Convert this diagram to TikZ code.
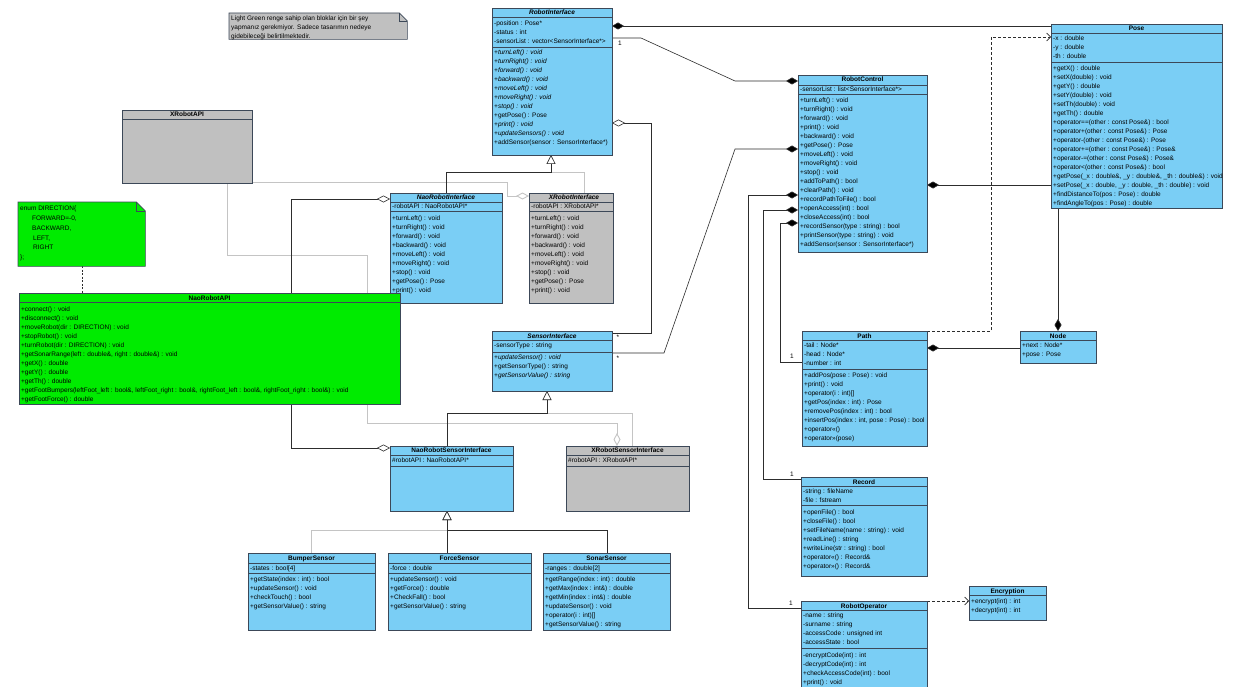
\documentclass[tikz,border=0pt]{standalone}
\usepackage{fontspec}
\setmainfont{Liberation Sans}
\usetikzlibrary{arrows.meta}
\definecolor{cblue}{RGB}{122,206,245}
\definecolor{cgray}{RGB}{192,192,192}
\definecolor{cgreen}{RGB}{0,235,0}
\definecolor{cbord}{RGB}{60,72,88}
\definecolor{cline}{RGB}{45,45,45}
\definecolor{clgray}{RGB}{196,196,196}
\newcommand\ms{\rule{0pt}{7pt}}
\newcommand{\ucls}[6]{\node[#2, anchor=north west, minimum width={#5pt-#3pt}, minimum height={#6pt-#4pt}] (#1) at (#3,#4) {};}
\pgfdeclarelayer{bg}
\pgfsetlayers{bg,main}
\begin{document}
\begin{tikzpicture}[x=1pt,y=-1pt,
 bluecls/.style={draw=cbord, fill=cblue, line width=0.7pt, inner sep=0, outer sep=0},
 graycls/.style={draw=cbord, fill=cgray, line width=0.7pt, inner sep=0, outer sep=0},
 greencls/.style={draw=cbord, fill=cgreen, line width=0.7pt, inner sep=0, outer sep=0},
 dv/.style={draw=cbord, line width=0.6pt},
 txt/.style={anchor=north west, align=left, inner sep=0, font=\fontsize{6.5}{9}\selectfont},
 hdr/.style={anchor=base, inner sep=0, font=\fontsize{6.5}{9}\selectfont\bfseries},
 hdri/.style={anchor=base, inner sep=0, font=\fontsize{6.5}{9}\selectfont\bfseries\itshape},
 lbl/.style={inner sep=0, font=\fontsize{6.5}{8}\selectfont},
 dk/.style={draw=cline, line width=0.6pt},
 lg/.style={draw=clgray, line width=0.9pt},
 comp/.style={{Diamond[length=12pt,width=7pt,fill=black]}-},
 agge/.style={-{Diamond[open,length=13pt,width=7pt,fill=white]}},
 agg/.style={{Diamond[open,length=13pt,width=7pt,fill=white]}-},
 compe/.style={-{Diamond[length=12pt,width=7pt,fill=black]}},
 gen/.style={-{Triangle[open,length=9pt,width=9pt,fill=white]}},
 dep/.style={dash pattern=on 3pt off 2pt, -{Straight Barb[length=4pt,width=8pt]}}
]
\useasboundingbox (0,0) rectangle (1238,687);

% ---------- note 1
\node[anchor=north west, minimum width=178pt, minimum height=26pt, inner sep=0] (N1) at (229,13) {};
\fill[cgray, draw=cbord, line width=0.6pt] (N1.north west) -- ([xshift=-8pt]N1.north east) -- ([yshift=-8pt]N1.north east) -- (N1.south east) -- (N1.south west) -- cycle;
\draw[cbord, line width=0.5pt] ([xshift=-8pt]N1.north east) -- ([xshift=-8pt,yshift=-8pt]N1.north east) -- ([yshift=-8pt]N1.north east);
\node[txt] (N1t) at (231,13.5) {\ms Light Green renge sahip olan bloklar için bir şey\\yapmanız gerekmiyor. Sadece tasarımın nedeye\\gidebileceği belirtilmektedir.};

% ---------- enum note
\node[anchor=north west, minimum width=127pt, minimum height=64pt, inner sep=0] (EN) at (18,202) {};
\fill[cgreen, draw=cbord, line width=0.6pt] (EN.north west) -- ([xshift=-9pt]EN.north east) -- ([yshift=-9pt]EN.north east) -- (EN.south east) -- (EN.south west) -- cycle;
\draw[cbord, line width=0.5pt] ([xshift=-9pt]EN.north east) -- ([xshift=-9pt,yshift=-9pt]EN.north east) -- ([yshift=-9pt]EN.north east);
\node[txt, font=\fontsize{6.5}{9.8}\selectfont] (ENt) at (20,203.5) {\ms enum DIRECTION\{\\\hspace*{12pt}FORWARD=-0,\\\hspace*{12pt}BACKWARD,\\\hspace*{13pt}LEFT,\\\hspace*{13pt}RIGHT\\\};};

% ---------- XRobotAPI
\ucls{XAPI}{graycls}{122}{110}{252}{183}
\draw[dv] (122,119) -- (252,119);
\node[hdr] (XAPIh) at (187,117) {XRobotAPI};

% ---------- RobotInterface
\ucls{RI}{bluecls}{492}{8}{612}{155}
\draw[dv] (492,17) -- (612,17);
\draw[dv] (492,47) -- (612,47);
\node[hdri] (RIh) at (552,15) {RobotInterface};
\node[txt] (RIa) at (494,18.5) {\ms -position : Pose*\\-status : int\\-sensorList : vector<SensorInterface*>};
\node[txt] (RIo) at (494,47.5) {\ms \textit{+turnLeft() : void}\\\textit{+turnRight() : void}\\\textit{+forward() : void}\\\textit{+backward() : void}\\\textit{+moveLeft() : void}\\\textit{+moveRight() : void}\\\textit{+stop() : void}\\+getPose() : Pose\\\textit{+print() : void}\\\textit{+updateSensors() : void}\\+addSensor(sensor : SensorInterface*)};

% ---------- NaoRobotInterface
\ucls{NRI}{bluecls}{390}{193}{502}{303}
\draw[dv] (390,202) -- (502,202);
\draw[dv] (390,211) -- (502,211);
\node[hdri] (NRIh) at (446,199.5) {NaoRobotInterface};
\node[txt] (NRIa) at (392,201.5) {\ms -robotAPI : NaoRobotAPI*};
\node[txt] (NRIo) at (392,213.5) {\ms +turnLeft() : void\\+turnRight() : void\\+forward() : void\\+backward() : void\\+moveLeft() : void\\+moveRight() : void\\+stop() : void\\+getPose() : Pose\\+print() : void};

% ---------- XRobotInterface
\ucls{XRI}{graycls}{529}{193}{613}{303}
\draw[dv] (529,202) -- (613,202);
\draw[dv] (529,211) -- (613,211);
\node[hdri] (XRIh) at (574,199.5) {XRobotInterface};
\node[txt] (XRIa) at (531,201.5) {\ms -robotAPI : XRobotAPI*};
\node[txt] (XRIo) at (531,213.5) {\ms +turnLeft() : void\\+turnRight() : void\\+forward() : void\\+backward() : void\\+moveLeft() : void\\+moveRight() : void\\+stop() : void\\+getPose() : Pose\\+print() : void};

% ---------- NaoRobotAPI
\ucls{NRA}{greencls}{19}{293}{400}{404}
\draw[dv] (19,302) -- (400,302);
\node[hdr] (NRAh) at (209.5,300) {NaoRobotAPI};
\node[txt] (NRAo) at (21,304.5) {\ms +connect() : void\\+disconnect() : void\\+moveRobot(dir : DIRECTION) : void\\+stopRobot() : void\\+turnRobot(dir : DIRECTION) : void\\+getSonarRange(left : double\&, right : double\&) : void\\+getX() : double\\+getY() : double\\+getTh() : double\\+getFootBumpers(leftFoot\_left : bool\&, leftFoot\_right : bool\&, rightFoot\_left : bool\&, rightFoot\_right : bool\&) : void\\+getFootForce() : double};

% ---------- SensorInterface
\ucls{SI}{bluecls}{492}{331}{612}{391}
\draw[dv] (492,340) -- (612,340);
\draw[dv] (492,352) -- (612,352);
\node[hdri] (SIh) at (552,338) {SensorInterface};
\node[txt] (SIa) at (494,340.5) {\ms -sensorType : string};
\node[txt] (SIo) at (494,352.5) {\ms \textit{+updateSensor() : void}\\+getSensorType() : string\\\textit{+getSensorValue() : string}};

% ---------- NaoRobotSensorInterface
\ucls{NRSI}{bluecls}{390}{446}{513}{511}
\draw[dv] (390,455) -- (513,455);
\draw[dv] (390,466) -- (513,466);
\node[hdr] (NRSIh) at (451.5,452.5) {NaoRobotSensorInterface};
\node[txt] (NRSIa) at (392,455.5) {\ms \#robotAPI : NaoRobotAPI*};

% ---------- XRobotSensorInterface
\ucls{XRSI}{graycls}{566}{446}{689}{511}
\draw[dv] (566,455) -- (689,455);
\draw[dv] (566,466) -- (689,466);
\node[hdr] (XRSIh) at (627.5,452.5) {XRobotSensorInterface};
\node[txt] (XRSIa) at (568,455.5) {\ms \#robotAPI : XRobotAPI*};

% ---------- sensors
\ucls{BS}{bluecls}{248}{553}{375}{630}
\draw[dv] (248,563) -- (375,563);
\draw[dv] (248,573) -- (375,573);
\node[hdr] (BSh) at (311.5,560.5) {BumperSensor};
\node[txt] (BSa) at (250,563.5) {\ms -states : bool[4]};
\node[txt] (BSo) at (250,574.5) {\ms +getState(index : int) : bool\\+updateSensor() : void\\+checkTouch() : bool\\+getSensorValue() : string};

\ucls{FS}{bluecls}{388}{553}{531}{630}
\draw[dv] (388,563) -- (531,563);
\draw[dv] (388,573) -- (531,573);
\node[hdr] (FSh) at (459.5,560.5) {ForceSensor};
\node[txt] (FSa) at (390,563.5) {\ms -force : double};
\node[txt] (FSo) at (390,574.5) {\ms +updateSensor() : void\\+getForce() : double\\+CheckFall() : bool\\+getSensorValue() : string};

\ucls{SS}{bluecls}{543}{553}{670}{630}
\draw[dv] (543,563) -- (670,563);
\draw[dv] (543,573) -- (670,573);
\node[hdr] (SSh) at (606.5,560.5) {SonarSensor};
\node[txt] (SSa) at (545,563.5) {\ms -ranges : double[2]};
\node[txt] (SSo) at (545,574.5) {\ms +getRange(index : int) : double\\+getMax(index : int\&) : double\\+getMin(index : int\&) : double\\+updateSensor() : void\\+operator(i : int)[]\\+getSensorValue() : string};

% ---------- RobotControl
\ucls{RC}{bluecls}{798}{75}{927}{252}
\draw[dv] (798,85) -- (927,85);
\draw[dv] (798,94) -- (927,94);
\node[hdr] (RCh) at (862.5,82) {RobotControl};
\node[txt] (RCa) at (800,84.5) {\ms -sensorList : list<SensorInterface*>};
\node[txt] (RCo) at (800,95.3) {\ms +turnLeft() : void\\+turnRight() : void\\+forward() : void\\+print() : void\\+backward() : void\\+getPose() : Pose\\+moveLeft() : void\\+moveRight() : void\\+stop() : void\\+addToPath() : bool\\+clearPath() : void\\+recordPathToFile() : bool\\+openAccess(int) : bool\\+closeAccess(int) : bool\\+recordSensor(type : string) : bool\\+printSensor(type : string) : void\\+addSensor(sensor : SensorInterface*)};

% ---------- Pose
\ucls{Pose}{bluecls}{1051}{24}{1222}{208}
\draw[dv] (1051,33) -- (1222,33);
\draw[dv] (1051,62) -- (1222,62);
\node[hdr] (Poseh) at (1136.5,31) {Pose};
\node[txt] (Posea) at (1053,33.3) {\ms -x : double\\-y : double\\-th : double};
\node[txt] (Poseo) at (1053,63.3) {\ms +getX() : double\\+setX(double) : void\\+getY() : double\\+setY(double) : void\\+setTh(double) : void\\+getTh() : double\\+operator==(other : const Pose\&) : bool\\+operator+(other : const Pose\&) : Pose\\+operator-(other : const Pose\&) : Pose\\+operator+=(other : const Pose\&) : Pose\&\\+operator-=(other : const Pose\&) : Pose\&\\+operator<(other : const Pose\&) : bool\\+getPose(\_x : double\&, \_y : double\&, \_th : double\&) : void\\+setPose(\_x : double, \_y : double, \_th : double) : void\\+findDistanceTo(pos : Pose) : double\\+findAngleTo(pos : Pose) : double};

% ---------- Path
\ucls{Path}{bluecls}{802}{331}{927}{446}
\draw[dv] (802,340) -- (927,340);
\draw[dv] (802,369) -- (927,369);
\node[hdr] (Pathh) at (864.5,338) {Path};
\node[txt] (Patha) at (804,340.5) {\ms -tail : Node*\\-head : Node*\\-number : int};
\node[txt] (Patho) at (804,370.5) {\ms +addPos(pose : Pose) : void\\+print() : void\\+operator(i : int)[]\\+getPos(index : int) : Pose\\+removePos(index : int) : bool\\+insertPos(index : int, pose : Pose) : bool\\+operator<<()\\+operator>>(pose)};

% ---------- Node
\ucls{Node}{bluecls}{1020}{331}{1096}{363}
\draw[dv] (1020,340) -- (1096,340);
\node[hdr] (Nodeh) at (1058,338) {Node};
\node[txt] (Nodea) at (1022,340.5) {\ms +next : Node*\\+pose : Pose};

% ---------- Record
\ucls{Rec}{bluecls}{801}{477}{927}{576}
\draw[dv] (801,486) -- (927,486);
\draw[dv] (801,505) -- (927,505);
\node[hdr] (Rech) at (864,484) {Record};
\node[txt] (Reca) at (803,486.5) {\ms -string : fileName\\-file : fstream};
\node[txt] (Reco) at (803,507.5) {\ms +openFile() : bool\\+closeFile() : bool\\+setFileName(name : string) : void\\+readLine() : string\\+writeLine(str : string) : bool\\+operator<<() : Record\&\\+operator>>() : Record\&};

% ---------- RobotOperator
\ucls{RO}{bluecls}{801}{601}{927}{692}
\draw[dv] (801,610) -- (927,610);
\draw[dv] (801,648) -- (927,648);
\node[hdr] (ROh) at (864,608) {RobotOperator};
\node[txt] (ROa) at (803,610.5) {\ms -name : string\\-surname : string\\-accessCode : unsigned int\\-accessState : bool};
\node[txt] (ROo) at (803,650.5) {\ms -encryptCode(int) : int\\-decryptCode(int) : int\\+checkAccessCode(int) : bool\\+print() : void};

% ---------- Encryption
\ucls{Enc}{bluecls}{969}{586}{1046}{620}
\draw[dv] (969,595) -- (1046,595);
\node[hdr] (Ench) at (1007.5,593) {Encryption};
\node[txt] (Enco) at (971,596.5) {\ms +encrypt(int) : int\\+decrypt(int) : int};

% ---------- multiplicity labels
\node[lbl] (m1) at (620,43) {1};
\node[lbl] (m2) at (618,337) {*};
\node[lbl] (m3) at (618,358) {*};
\node[lbl] (m4) at (792,356) {1};
\node[lbl] (m5) at (792,474) {1};
\node[lbl] (m6) at (791,603) {1};

% ---------- connectors
\begin{pgfonlayer}{bg}
\fill[white] (0,0) rectangle (1238,687);
\draw[dk, dash pattern=on 2pt off 1.5pt] (EN.south -| 82,0) -- (NRA.north -| 82,0);
% grey XRobotAPI lines
\draw[lg, agge] (XAPI.east |- 0,182.5) -- (507,182.5) -- (507,196) -- (XRI.west |- 0,196);
\draw[lg, agge] (XAPI.south -| 227,0) -- (227,255) -- (367,255) -- (367,423) -- (617,423) -- (XRSI.north -| 617,0);
% generalisations
\draw[lg, gen] (XRI.north -| 584,0) -- (584,172) -- (551,172) -- (RI.south -| 551,0);
\draw[dk, gen] (NRI.north -| 446,0) -- (446,172) -- (551,172) -- (RI.south -| 551,0);
\draw[lg, gen] (XRSI.north -| 632,0) -- (632,413) -- (547,413) -- (SI.south -| 547,0);
\draw[dk, gen] (NRSI.north -| 447,0) -- (447,413) -- (547,413) -- (SI.south -| 547,0);
\draw[lg, gen] (BS.north -| 311,0) -- (311,530) -- (447,530) -- (NRSI.south -| 447,0);
\draw[dk, gen] (SS.north -| 607,0) -- (607,530) -- (447,530) -- (NRSI.south -| 447,0);
\draw[dk, gen] (FS.north -| 447,0) -- (NRSI.south -| 447,0);
% aggregations
\draw[dk, agge] (NRA.north -| 291,0) -- (291,199) -- (NRI.west |- 0,199);
\draw[dk, agge] (NRA.south -| 291,0) -- (291,448) -- (NRSI.west |- 0,448);
\draw[dk, agg] (RI.east |- 0,123) -- (651,123) -- (651,333) -- (SI.east |- 0,333);
% compositions
\draw[dk, comp] (RI.east |- 0,26) -- (Pose.west |- 0,26);
\draw[dk, compe] (RI.east |- 0,38) -- (641,38) -- (735,81) -- (RC.west |- 0,81);
\draw[dk, comp] (RC.west |- 0,149) -- (735,149) -- (664,353) -- (SI.east |- 0,353);
\draw[dk, comp] (RC.west |- 0,195) -- (748,195) -- (748,608) -- (RO.west |- 0,608);
\draw[dk, comp] (RC.west |- 0,210) -- (763,210) -- (763,479) -- (Rec.west |- 0,479);
\draw[dk, comp] (RC.west |- 0,223) -- (780,223) -- (780,362) -- (Path.west |- 0,362);
\draw[dk, comp] (RC.east |- 0,185) -- (Pose.west |- 0,185);
\draw[dk, comp] (Path.east |- 0,348) -- (Node.west |- 0,348);
\draw[dk, comp] (Node.north -| 1058,0) -- (Pose.south -| 1058,0);
% dependencies
\draw[dk, dep] (Path.north east) -- (991,331) -- (991,37) -- (Pose.west |- 0,37);
\draw[dk, dep] (RO.north east) -- (Enc.west |- 0,601);
\end{pgfonlayer}
\end{tikzpicture}
\end{document}
